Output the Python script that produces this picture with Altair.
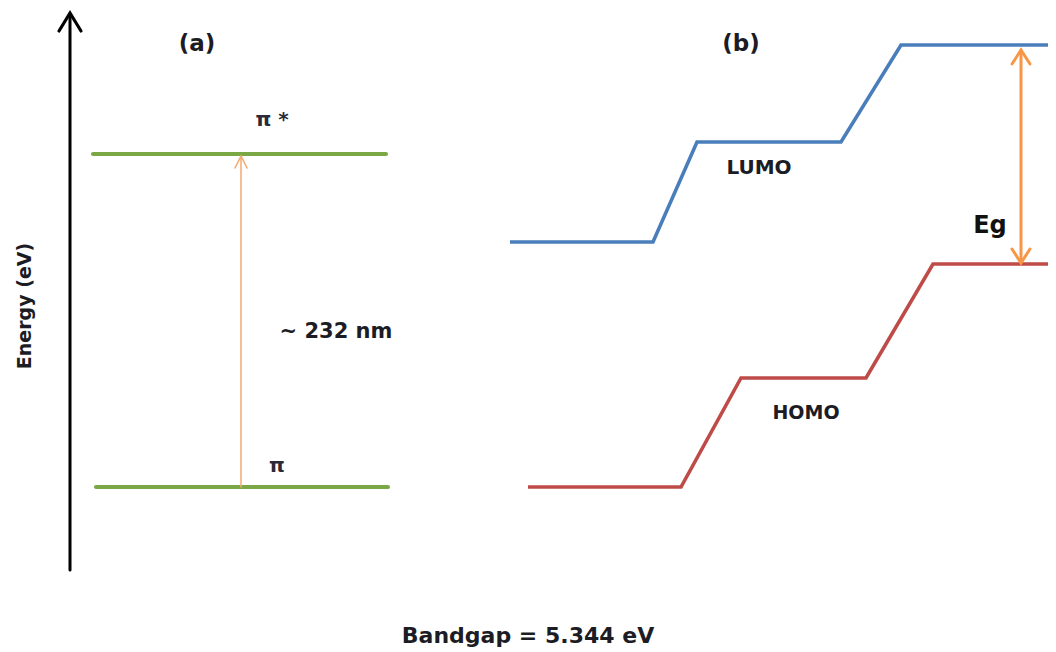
import altair as alt
import pandas as pd

# Image-pixel coordinate system (x to the right, y downward)
W, H = 1040, 640
X0, Y0 = 8, 8

# ---- data ----
# panel (a): pi levels
pi_star_x = [93, 386]
pi_star_y = [154, 154]
pi_x = [96, 388]
pi_y = [487, 487]

# panel (b): LUMO / HOMO step paths
lumo_x = [510, 653, 697, 841, 901, 1056]
lumo_y = [242, 242, 142, 142, 45, 45]
homo_x = [528, 681, 741, 866, 933, 1056]
homo_y = [487, 487, 378, 378, 264, 264]

# energy axis arrow
axis_x = [70, 70]
axis_y = [570, 14]
axis_head_x = [59, 70, 81]
axis_head_y = [31, 13, 31]

# transition arrow (a)
trans_x = [241, 241]
trans_y = [487, 157]
trans_head_x = [235, 241, 247]
trans_head_y = [168, 156, 168]

# Eg double arrow (b)
eg_x = [1021, 1021]
eg_y = [50, 263]
eg_head_top_x = [1012, 1021, 1030]
eg_head_top_y = [64, 50, 64]
eg_head_bot_x = [1012, 1021, 1030]
eg_head_bot_y = [249, 263, 249]

# labels
bold_labels = ["(a)", "(b)", "~ 232 nm", "LUMO", "HOMO", "Bandgap = 5.344 eV"]
bold_x = [197, 741, 336, 759, 806, 528]
bold_y = [44, 44, 332, 168, 413, 636]
bold_size = [23, 23, 21, 20, 19, 22]

pi_labels = ["\u03c0 *", "\u03c0"]
pi_lx = [272, 277]
pi_ly = [120, 466]

eg_label = ["Eg"]
eg_lx = [990]
eg_ly = [226]

ylabel = ["Energy (eV)"]
ylab_x = [25]
ylab_y = [306]

# ---- helpers ----
xs = alt.Scale(domain=[X0, X0 + W], range=[0, W])
ys = alt.Scale(domain=[Y0, Y0 + H], range=[0, H])
FONT = "DejaVu Sans"


def path_df(xv, yv, grp="g"):
    return pd.DataFrame({"x": xv, "y": yv, "o": list(range(len(xv))), "g": grp})


def line_layer(df, color, width, cap="round"):
    return alt.Chart(df).mark_line(
        color=color, strokeWidth=width, strokeCap=cap, strokeJoin="miter", clip=False
    ).encode(
        x=alt.X("x:Q", scale=xs, axis=None),
        y=alt.Y("y:Q", scale=ys, axis=None),
        order="o:Q",
        detail="g:N",
    )


green = "#79a845"
blue = "#4a7ebb"
red = "#be4b48"
orange_thin = "#f3a86e"
orange = "#f79646"

layers = [
    line_layer(path_df(axis_x, axis_y), "#000000", 3),
    line_layer(path_df(axis_head_x, axis_head_y), "#000000", 3.2),
    line_layer(pd.concat([path_df(pi_star_x, pi_star_y, "s"), path_df(pi_x, pi_y, "p")]), green, 4),
    line_layer(path_df(trans_x, trans_y), orange_thin, 1.5),
    line_layer(path_df(trans_head_x, trans_head_y), orange_thin, 1.5),
    line_layer(path_df(lumo_x, lumo_y), blue, 3.6, cap="butt"),
    line_layer(path_df(homo_x, homo_y), red, 3.6, cap="butt"),
    line_layer(path_df(eg_x, eg_y), orange, 3),
    line_layer(pd.concat([path_df(eg_head_top_x, eg_head_top_y, "t"),
                          path_df(eg_head_bot_x, eg_head_bot_y, "b")]), orange, 3),
]

bold_df = pd.DataFrame({"t": bold_labels, "x": bold_x, "y": bold_y, "s": bold_size})
layers.append(
    alt.Chart(bold_df).mark_text(font=FONT, fontWeight="bold", color="#1c1c24",
                                 baseline="middle", align="center").encode(
        x=alt.X("x:Q", scale=xs, axis=None),
        y=alt.Y("y:Q", scale=ys, axis=None),
        text="t:N",
        size=alt.Size("s:Q", scale=None, legend=None),
    )
)

pi_df = pd.DataFrame({"t": pi_labels, "x": pi_lx, "y": pi_ly})
layers.append(
    alt.Chart(pi_df).mark_text(font=FONT, fontSize=20, fontWeight="bold", color="#2a2a38",
                               baseline="middle", align="center").encode(
        x=alt.X("x:Q", scale=xs, axis=None),
        y=alt.Y("y:Q", scale=ys, axis=None),
        text="t:N",
    )
)

eg_df = pd.DataFrame({"t": eg_label, "x": eg_lx, "y": eg_ly})
layers.append(
    alt.Chart(eg_df).mark_text(font=FONT, fontWeight="bold", fontSize=24, color="#111111",
                               baseline="middle", align="center").encode(
        x=alt.X("x:Q", scale=xs, axis=None),
        y=alt.Y("y:Q", scale=ys, axis=None),
        text="t:N",
    )
)

yl_df = pd.DataFrame({"t": ylabel, "x": ylab_x, "y": ylab_y})
layers.append(
    alt.Chart(yl_df).mark_text(font=FONT, fontWeight="bold", fontSize=19, color="#1c1c24",
                               angle=270, baseline="middle", align="center").encode(
        x=alt.X("x:Q", scale=xs, axis=None),
        y=alt.Y("y:Q", scale=ys, axis=None),
        text="t:N",
    )
)

chart = alt.layer(*layers).properties(
    width=W, height=H, padding=0, autosize=alt.AutoSizeParams(type="none"),
    background="white",
).configure_view(strokeWidth=0)

chart.save("out.html", embed_options={"renderer": "svg", "actions": False})
